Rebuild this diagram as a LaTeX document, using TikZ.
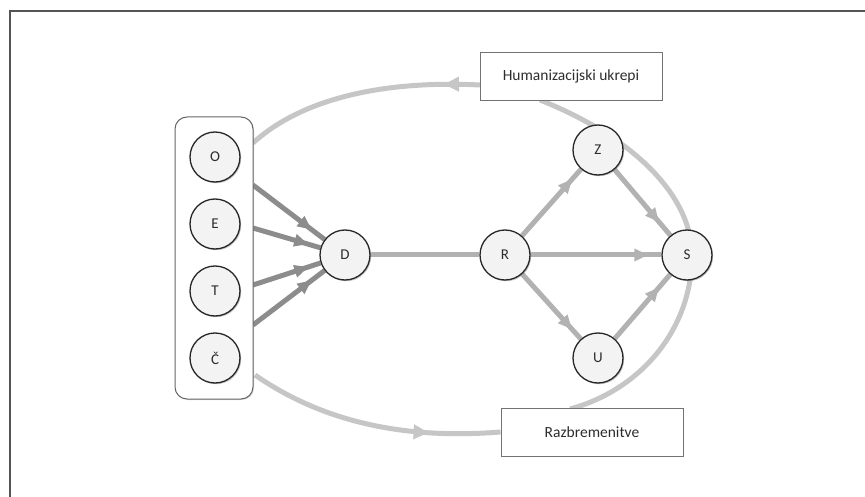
\documentclass[tikz,border=0pt]{standalone}
\usepackage{fontspec}
\setmainfont{Carlito}
\usetikzlibrary{arrows.meta,decorations.markings,shadows,backgrounds}
\definecolor{framegray}{RGB}{85, 85, 85}
\definecolor{arrowdark}{RGB}{140, 140, 140}
\definecolor{arrowlight}{RGB}{178, 178, 178}
\definecolor{loopgray}{RGB}{198, 198, 198}
\definecolor{ballfill}{RGB}{243, 243, 243}
\definecolor{inkgray}{RGB}{45, 45, 45}

\tikzset{
  letter/.style   = {circle, draw=black!85, line width=1.3pt, fill=ballfill, minimum size=50pt, inner sep=0pt,
                     text=inkgray, font=\fontsize{15}{17}\selectfont,
                     drop shadow={shadow xshift=1.2pt, shadow yshift=-1.2pt, opacity=0.45}},
  labelbox/.style = {draw=black!55, line width=0.9pt, fill=white, minimum width=182pt, minimum height=48pt,
                     text=inkgray, font=\fontsize{15.5}{18}\selectfont,
                     drop shadow={shadow xshift=1pt, shadow yshift=-1pt, opacity=0.3}},
  flow/.style     = {line width=5pt, decoration={markings, mark=at position #1 with {\arrow{Triangle[width=12pt, length=14pt]}}},
                     postaction={decorate}},
  loopline/.style = {loopgray, line width=5pt},
  looptip/.style  = {decoration={markings, mark=at position #1 with {\arrow{Triangle[width=14pt, length=15pt]}}},
                     postaction={decorate}}
}

\begin{document}
\begin{tikzpicture}[x=1pt, y=-1pt]
  \useasboundingbox (0, 0) rectangle (865, 497);
  \draw[framegray, line width=1.5pt] (865, 11) -- (10, 11) -- (10, 497);

  \node[draw=black!60, line width=1pt, rounded corners=12pt, fill=white, minimum width=78pt, minimum height=282pt,
        drop shadow={shadow xshift=1pt, shadow yshift=-1pt, opacity=0.3}] (group) at (214, 258) {};
  \node[letter] (o) at (215, 157) {O};
  \node[letter] (e) at (215, 224) {E};
  \node[letter] (t) at (215, 291) {T};
  \node[letter] (c) at (215, 358) {Č};

  \node[letter] (d) at (345, 255) {D};
  \node[letter] (r) at (505, 255) {R};
  \node[letter] (z) at (598, 150) {Z};
  \node[letter] (u) at (598, 358) {U};
  \node[letter] (s) at (687, 255) {S};

  \node[labelbox] (hum) at (571, 76)  {Humanizacijski ukrepi};
  \node[labelbox] (raz) at (592, 432) {Razbremenitve};

  \coordinate (g1) at (253, 185);
  \coordinate (g2) at (253, 228);
  \coordinate (g3) at (253, 285);
  \coordinate (g4) at (253, 325);
  \coordinate (gtop) at (253, 143);
  \coordinate (gbot) at (255, 375);
  \coordinate (humin)  at (480, 85);
  \coordinate (humout) at (540, 100);
  \coordinate (razin)  at (570, 409);

  \begin{scope}[on background layer]
    \draw[loopline, looptip=0.15] (humin) .. controls (380, 80) and (300, 100) .. (gtop);
    \draw[loopline] (humout) .. controls (640, 140) and (692, 200) .. (692, 255)
                             .. controls (692, 330) and (640, 390) .. (razin);
    \draw[loopline, looptip=0.72] (gbot) .. controls (320, 420) and (400, 440) .. (raz.west);

    \draw[arrowdark, flow=0.82] (g1) -- (d);
    \draw[arrowdark, flow=0.82] (g2) -- (d);
    \draw[arrowdark, flow=0.82] (g3) -- (d);
    \draw[arrowdark, flow=0.82] (g4) -- (d);

    \draw[arrowlight, line width=5pt] (d) -- (r);
    \draw[arrowlight, flow=0.85] (r) -- (z);
    \draw[arrowlight, flow=0.85] (r) -- (u);
    \draw[arrowlight, flow=0.9]  (r) -- (s);
    \draw[arrowlight, flow=0.8]  (z) -- (s);
    \draw[arrowlight, flow=0.8]  (u) -- (s);
  \end{scope}
\end{tikzpicture}
\end{document}
